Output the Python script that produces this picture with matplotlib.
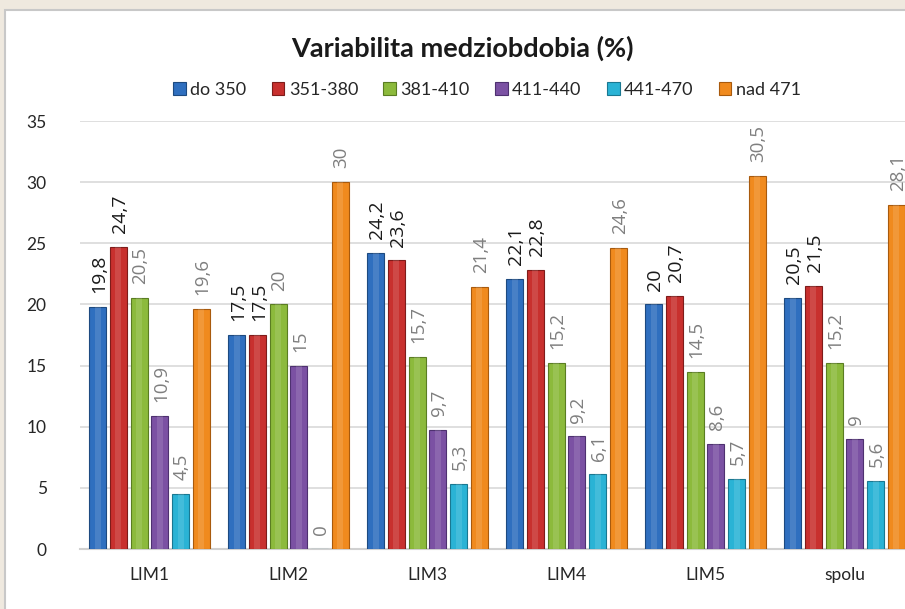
import matplotlib.pyplot as plt
import matplotlib.patches as mpatches
import numpy as np

# data
categories = ['LIM1', 'LIM2', 'LIM3', 'LIM4', 'LIM5', 'spolu']
series_names = ['do 350', '351-380', '381-410', '411-440', '441-470', 'nad 471']
do_350 = [19.8, 17.5, 24.2, 22.1, 20, 20.5]
s351_380 = [24.7, 17.5, 23.6, 22.8, 20.7, 21.5]
s381_410 = [20.5, 20, 15.7, 15.2, 14.5, 15.2]
s411_440 = [10.9, 15, 9.7, 9.2, 8.6, 9]
s441_470 = [4.5, 0, 5.3, 6.1, 5.7, 5.6]
nad_471 = [19.6, 30, 21.4, 24.6, 30.5, 28.1]
series = [do_350, s351_380, s381_410, s411_440, s441_470, nad_471]

colors = ['#2f6fbf', '#c8302e', '#8cba3c', '#7b51a3', '#2ab3d5', '#f08a1e']
edges = ['#1d4a80', '#7e1c1a', '#5a7d22', '#4e3170', '#1a7891', '#a85a0d']
label_colors = ['#1a1a1a', '#1a1a1a', '#7f7f7f', '#7f7f7f', '#7f7f7f', '#7f7f7f']
label_sizes = [14, 14, 13.5, 13.5, 13.5, 13.5]

plt.rcParams['font.family'] = ['Lato', 'DejaVu Sans']

fig = plt.figure(figsize=(9.05, 6.09), dpi=100)
fig.patch.set_facecolor('#efe9df')
# white chart frame
frame = mpatches.Rectangle((5, -10), 920, 609, transform=None,
                           facecolor='white', edgecolor='#c8c8c8', lw=1.5, zorder=-5)
fig.patches.append(frame)

ax = fig.add_axes([80 / 905, 1 - 549 / 609, 834 / 905, 428 / 609])
ax.set_facecolor('white')

x = np.arange(len(categories))
step = 0.149
width = 0.122
for i, vals in enumerate(series):
    pos = x + (i - 2.5) * step
    ax.bar(pos, vals, width, color=colors[i], edgecolor=edges[i], lw=0.8,
           label=series_names[i], zorder=3)
    # light centre highlight for a bevelled look
    ax.bar(pos, vals, width * 0.35, color='white', alpha=0.12, lw=0, zorder=4)
    for p, v in zip(pos, vals):
        txt = ('%g' % v).replace('.', ',')
        ax.annotate(txt, (p, v), xytext=(1, 10), textcoords='offset points',
                    rotation=90, ha='center', va='bottom',
                    color=label_colors[i], fontsize=label_sizes[i],
                    family=['Open Sans', 'DejaVu Sans'], zorder=5)

ax.set_xlim(-0.5, 5.5)
ax.set_ylim(0, 35)
ax.set_yticks(range(0, 36, 5))
ax.set_xticks(x)
ax.set_xticklabels(categories)
ax.tick_params(axis='both', length=0, labelsize=12.5, colors='#262626')
ax.tick_params(axis='x', pad=13)
ax.tick_params(axis='y', pad=24)
ax.grid(axis='y', color='#d9d9d9', lw=1.2, zorder=0)
for s in ['top', 'right', 'left']:
    ax.spines[s].set_visible(False)
ax.spines['bottom'].set_color('#d0d0d0')
ax.spines['bottom'].set_linewidth(1.5)

fig.text(462 / 905, 1 - 48 / 609, 'Variabilita medziobdobia (%)',
         ha='center', va='center', fontsize=19.5, fontweight='bold', color='#1a1a1a')
fig.legend(loc='center', bbox_to_anchor=(487 / 905, 1 - 90 / 609), ncol=6,
           frameon=False, fontsize=13, handlelength=0.7, handleheight=0.7,
           handletextpad=0.25, columnspacing=1.4, labelcolor='#262626')

plt.savefig('out.png', dpi=100)
